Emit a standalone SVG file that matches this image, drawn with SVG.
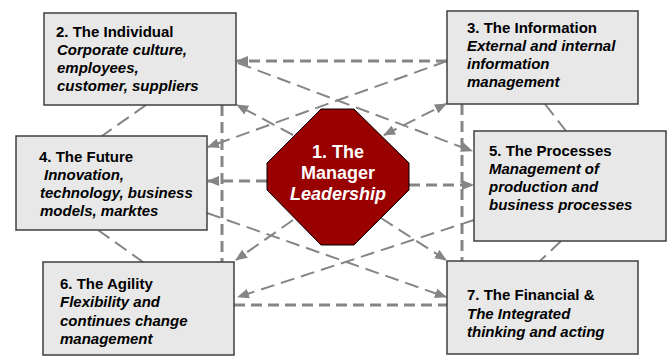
<svg xmlns="http://www.w3.org/2000/svg" width="668" height="358" viewBox="0 0 668 358">
<defs>
<marker id="arr" markerUnits="userSpaceOnUse" markerWidth="12" markerHeight="10" refX="11" refY="5" orient="auto-start-reverse" viewBox="0 0 12 10">
<path d="M0,0 L12,5 L0,10 z" fill="#858585"/>
</marker>
<style>
.thick{stroke:#858585;stroke-width:3;stroke-dasharray:11 6;fill:none}
.thin{stroke:#858585;stroke-width:2;stroke-dasharray:14 7;fill:none}
.box{fill:#e8e8e8;stroke:#3f3f3f;stroke-width:1.5}
.t{font-family:"Liberation Sans",Arial,sans-serif;font-size:15px;font-weight:bold;fill:#000}
.i{font-style:italic}
.oc{font-family:"Liberation Sans",Arial,sans-serif;font-size:18px;font-weight:bold;fill:#fff;text-anchor:middle}
</style>
</defs>
<rect width="668" height="358" fill="#fff"/>
<g id="connectors">
<line class="thick" x1="447" y1="61" x2="237" y2="61" marker-end="url(#arr)"/>
<line class="thick" x1="222" y1="105" x2="222" y2="262"/>
<line class="thick" x1="462" y1="104" x2="462" y2="261"/>
<line class="thick" x1="234" y1="305" x2="447" y2="305"/>
<line class="thick" x1="267" y1="181" x2="208" y2="181" marker-end="url(#arr)"/>
<line class="thick" x1="409" y1="185" x2="473" y2="185" marker-end="url(#arr)"/>
<line class="thin" x1="146" y1="105" x2="102" y2="136"/>
<line class="thin" x1="98" y1="230" x2="143" y2="262"/>
<line class="thin" x1="545" y1="104" x2="566" y2="131"/>
<line class="thin" x1="561" y1="241" x2="540" y2="261"/>
<line class="thin" x1="238" y1="63" x2="472" y2="151" marker-end="url(#arr)"/>
<line class="thin" x1="447" y1="61" x2="208" y2="147" marker-end="url(#arr)"/>
<line class="thin" x1="293" y1="135" x2="237" y2="105" marker-end="url(#arr)"/>
<line class="thin" x1="384" y1="135" x2="446" y2="104" marker-start="url(#arr)" marker-end="url(#arr)"/>
<line class="thin" x1="293" y1="220" x2="236" y2="260" marker-end="url(#arr)"/>
<line class="thin" x1="381" y1="218" x2="446" y2="260" marker-end="url(#arr)"/>
<line class="thin" x1="207" y1="213" x2="446" y2="297" marker-end="url(#arr)"/>
<line class="thin" x1="474" y1="220" x2="238" y2="297" marker-end="url(#arr)"/>
</g>
<g id="node2">
<rect class="box" x="44" y="13" width="192" height="92"/>
<text class="t"><tspan x="56" y="37">2. The Individual</tspan><tspan class="i" x="57" y="55">Corporate culture,</tspan><tspan class="i" x="57" y="73">employees,</tspan><tspan class="i" x="57" y="91">customer, suppliers</tspan></text>
</g>
<g id="node3">
<rect class="box" x="447" y="11" width="191" height="93"/>
<text class="t"><tspan x="467" y="33">3. The Information</tspan><tspan class="i" x="467" y="51">External and internal</tspan><tspan class="i" x="467" y="69">information</tspan><tspan class="i" x="467" y="87">management</tspan></text>
</g>
<g id="node4">
<rect class="box" x="16" y="136" width="191" height="94"/>
<text class="t"><tspan x="39" y="162">4. The Future</tspan><tspan class="i" x="44" y="180">Innovation,</tspan><tspan class="i" x="40" y="198">technology, business</tspan><tspan class="i" x="40" y="216">models, marktes</tspan></text>
</g>
<g id="node5">
<rect class="box" x="474" y="131" width="192" height="110"/>
<text class="t"><tspan x="489" y="156">5. The Processes</tspan><tspan class="i" x="489" y="174">Management of</tspan><tspan class="i" x="489" y="192">production and</tspan><tspan class="i" x="489" y="210">business processes</tspan></text>
</g>
<g id="node6">
<rect class="box" x="43" y="262" width="191" height="93"/>
<text class="t"><tspan x="60" y="289">6. The Agility</tspan><tspan class="i" x="60" y="307">Flexibility and</tspan><tspan class="i" x="60" y="326">continues change</tspan><tspan class="i" x="60" y="344">management</tspan></text>
</g>
<g id="node7">
<rect class="box" x="447" y="261" width="191" height="93"/>
<text class="t"><tspan x="467" y="300">7. The Financial &amp;</tspan><tspan class="i" x="467" y="319">The Integrated</tspan><tspan class="i" x="467" y="337">thinking and acting</tspan></text>
</g>
<g id="node1">
<polygon points="321,109 354,109 409,163 409,190 354,245 321,245 267,190 267,163" fill="#990000" stroke="#000" stroke-width="1"/>
<text class="oc"><tspan x="338" y="158">1. The</tspan><tspan x="338" y="179">Manager</tspan><tspan class="i" x="338" y="200">Leadership</tspan></text>
</g>
</svg>
